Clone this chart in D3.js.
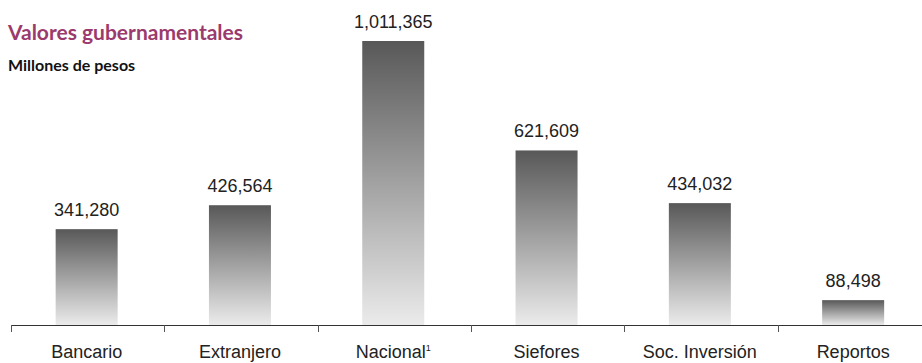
<!DOCTYPE html>
<html lang="es">
<head>
<meta charset="utf-8">
<title>Valores gubernamentales</title>
<script src="https://d3js.org/d3.v7.min.js"></script>
<style>
  body { margin: 0; background: #fff; }
  .titulo { font: bold 21px Lato, sans-serif; fill: #9b3a6c; }
  .subtitulo { font: bold 16px Lato, sans-serif; fill: #111; }
  .valor { font: 18px "Liberation Sans", Arial, sans-serif; fill: #222; text-anchor: middle; }
  .cat { font: 18px "Liberation Sans", Arial, sans-serif; fill: #222; text-anchor: middle; }
</style>
</head>
<body>
<div id="chart"></div>
<script>
"use strict"

var categorias = ["Bancario", "Extranjero", "Nacional", "Siefores", "Soc. Inversión", "Reportos"];
var notas = ["", "", "1", "", "", ""];
var valores = [341280, 426564, 1011365, 621609, 434032, 88498];

var larguraSVG = 922, alturaSVG = 363;
var base = 325;

var svg = d3.select("#chart").append("svg")
  .attr("width", larguraSVG)
  .attr("height", alturaSVG);

var defs = svg.append("defs");
var grad = defs.append("linearGradient")
  .attr("id", "cinza")
  .attr("x1", 0).attr("y1", 0).attr("x2", 0).attr("y2", 1);
grad.append("stop").attr("offset", "0%").attr("stop-color", "#585858");
grad.append("stop").attr("offset", "100%").attr("stop-color", "#ebebeb");

var x = d3.scaleBand()
  .domain(categorias)
  .range([10, 10 + 6 * 153.3])
  .paddingInner(0)
  .paddingOuter(0);

var y = d3.scaleLinear()
  .domain([0, 1011365])
  .range([base, 41]);

var larguraBarra = 62;

svg.selectAll("rect.barra")
  .data(valores)
  .enter()
  .append("rect")
    .attr("class", "barra")
    .attr("x", (d, i) => x(categorias[i]) + x.bandwidth() / 2 - larguraBarra / 2)
    .attr("y", d => y(d))
    .attr("width", larguraBarra)
    .attr("height", d => base - y(d))
    .attr("fill", "url(#cinza)");

svg.selectAll("text.valor")
  .data(valores)
  .enter()
  .append("text")
    .attr("class", "valor")
    .attr("x", (d, i) => x(categorias[i]) + x.bandwidth() / 2)
    .attr("y", d => y(d) - 13)
    .text(d => d3.format(",")(d));

// eixo
var eixo = svg.append("g");
eixo.append("line")
  .attr("x1", 11).attr("x2", larguraSVG)
  .attr("y1", base + 0.5).attr("y2", base + 0.5)
  .attr("stroke", "#333").attr("stroke-width", 1.2);
eixo.selectAll("line.tick")
  .data(categorias)
  .enter()
  .append("line")
    .attr("class", "tick")
    .attr("x1", d => Math.round(x(d)) + 1.5)
    .attr("x2", d => Math.round(x(d)) + 1.5)
    .attr("y1", base)
    .attr("y2", base + 7)
    .attr("stroke", "#555").attr("stroke-width", 1);

var rotulos = svg.selectAll("text.cat")
  .data(categorias)
  .enter()
  .append("text")
    .attr("class", "cat")
    .attr("x", d => x(d) + x.bandwidth() / 2)
    .attr("y", 358);
rotulos.append("tspan").text(d => d);
rotulos.append("tspan")
  .attr("dy", -7)
  .style("font-size", "9px")
  .text((d, i) => notas[i]);

svg.append("text")
  .attr("class", "titulo")
  .attr("x", 8).attr("y", 40)
  .text("Valores gubernamentales");

svg.append("text")
  .attr("class", "subtitulo")
  .attr("x", 8).attr("y", 71)
  .text("Millones de pesos");
</script>
</body>
</html>
